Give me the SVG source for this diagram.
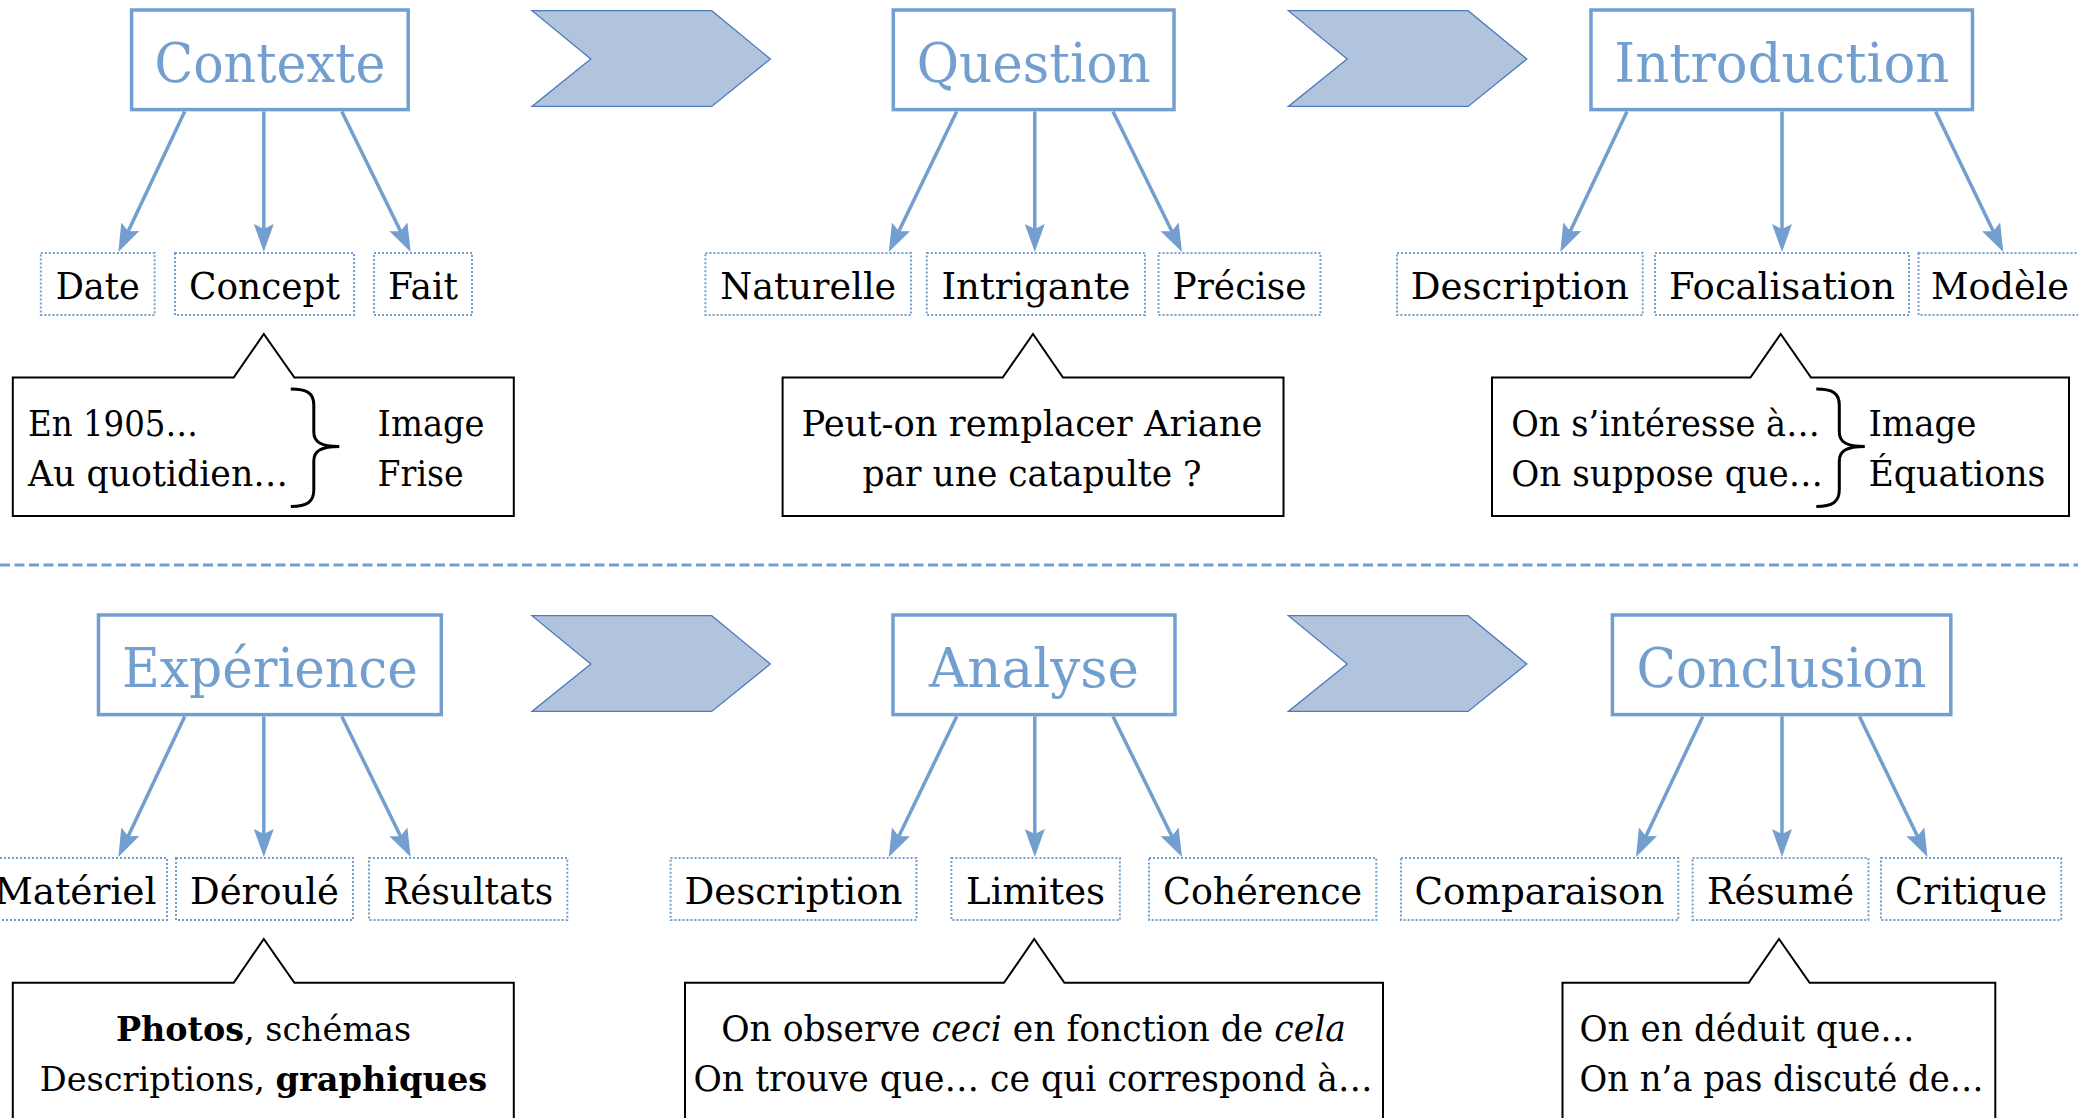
<svg xmlns="http://www.w3.org/2000/svg" width="2078" height="1118" viewBox="0 0 2078 1118">
  <defs>
    <style>
      text { font-family: "DejaVu Serif", "Liberation Serif", serif; }
      .head rect { fill: #ffffff; stroke: #729fcf; stroke-width: 3.5; }
      .head text { fill: #729fcf; font-size: 54px; text-anchor: middle; }
      .item rect { fill: #ffffff; stroke: #729fcf; stroke-width: 2; stroke-dasharray: 2 2; }
      .item text { fill: #000000; font-size: 37.5px; text-anchor: middle; }
      .note path.box { fill: #ffffff; stroke: #000000; stroke-width: 2; }
      .note path.brace { fill: none; stroke: #000000; stroke-width: 3; }
      .note text { fill: #000000; font-size: 35.5px; }
      .note text.c { text-anchor: middle; }
      .step { fill: #b0c4de; stroke: #4f79bd; stroke-width: 1.3; }
      .link { fill: none; stroke: #729fcf; stroke-width: 3.5; marker-end: url(#ah); }
      .sep { stroke: #729fcf; stroke-width: 3; stroke-dasharray: 10 4.5; }
    </style>
    <marker id="ah" markerUnits="userSpaceOnUse" markerWidth="30" markerHeight="22" viewBox="0 -11 30 22" refX="8" refY="0" orient="auto">
      <path d="M28,0 L0,-10 L5,0 L0,10 Z" fill="#729fcf"/>
    </marker>
  </defs>

  <rect width="2078" height="1118" fill="#ffffff"/>

  <!-- separator between the two rows -->
  <line class="sep" x1="0" y1="565" x2="2078" y2="565"/>

  <!-- chevrons between stages -->
  <g id="chevrons">
    <polygon class="step" points="532,10.7 711.7,10.7 770.4,59 711.7,106.4 532,106.4 590.8,59"/>
    <polygon class="step" points="1288.4,10.7 1468.1,10.7 1526.8,59 1468.1,106.4 1288.4,106.4 1347.2,59"/>
    <polygon class="step" points="532,615.7 711.7,615.7 770.4,664 711.7,711.4 532,711.4 590.8,664"/>
    <polygon class="step" points="1288.4,615.7 1468.1,615.7 1526.8,664 1468.1,711.4 1288.4,711.4 1347.2,664"/>
  </g>

  <!-- connectors -->
  <g id="connectors">
    <line class="link" x1="184.7" y1="111.4" x2="126.9" y2="233.9"/>
    <line class="link" x1="263.8" y1="111.4" x2="263.8" y2="232"/>
    <line class="link" x1="341.8" y1="111.4" x2="401.9" y2="234"/>

    <line class="link" x1="956.7" y1="111.4" x2="897.5" y2="234"/>
    <line class="link" x1="1034.8" y1="111.4" x2="1034.8" y2="232"/>
    <line class="link" x1="1113" y1="111.4" x2="1173.2" y2="234"/>

    <line class="link" x1="1627" y1="111.4" x2="1568.9" y2="233.9"/>
    <line class="link" x1="1782" y1="111.4" x2="1782" y2="232"/>
    <line class="link" x1="1935.6" y1="111.4" x2="1994.6" y2="234"/>

    <line class="link" x1="184.7" y1="716.4" x2="126.9" y2="838.9"/>
    <line class="link" x1="263.8" y1="716.4" x2="263.8" y2="837"/>
    <line class="link" x1="341.8" y1="716.4" x2="401.9" y2="839"/>

    <line class="link" x1="956.7" y1="716.4" x2="897.5" y2="839"/>
    <line class="link" x1="1034.8" y1="716.4" x2="1034.8" y2="837"/>
    <line class="link" x1="1113" y1="716.4" x2="1173.2" y2="839"/>

    <line class="link" x1="1702.8" y1="716.4" x2="1644.6" y2="838.9"/>
    <line class="link" x1="1782" y1="716.4" x2="1782" y2="837"/>
    <line class="link" x1="1859.5" y1="716.4" x2="1918.8" y2="839"/>
  </g>

  <!-- stage headers -->
  <g id="contexte" class="head">
    <rect x="131.6" y="10" width="276.6" height="99.6"/>
    <text x="269.9" y="82" textLength="231" lengthAdjust="spacingAndGlyphs">Contexte</text>
  </g>
  <g id="question" class="head">
    <rect x="893.3" y="10" width="280.7" height="99.6"/>
    <text x="1033.7" y="82" textLength="234" lengthAdjust="spacingAndGlyphs">Question</text>
  </g>
  <g id="introduction" class="head">
    <rect x="1591" y="10" width="381.5" height="99.6"/>
    <text x="1781.8" y="82" textLength="335" lengthAdjust="spacingAndGlyphs">Introduction</text>
  </g>
  <g id="experience" class="head">
    <rect x="98.5" y="615" width="342.8" height="99.6"/>
    <text x="269.9" y="687" textLength="296" lengthAdjust="spacingAndGlyphs">Expérience</text>
  </g>
  <g id="analyse" class="head">
    <rect x="893" y="615" width="282" height="99.6"/>
    <text x="1034" y="687" textLength="210" lengthAdjust="spacingAndGlyphs">Analyse</text>
  </g>
  <g id="conclusion" class="head">
    <rect x="1612.4" y="615" width="338.4" height="99.6"/>
    <text x="1781.6" y="687" textLength="290" lengthAdjust="spacingAndGlyphs">Conclusion</text>
  </g>

  <!-- sub-items, top row -->
  <g id="date" class="item"><rect x="40.8" y="253" width="113.8" height="62"/><text x="97.7" y="299" textLength="84" lengthAdjust="spacingAndGlyphs">Date</text></g>
  <g id="concept" class="item"><rect x="175" y="253" width="179" height="62"/><text x="264.5" y="299" textLength="151" lengthAdjust="spacingAndGlyphs">Concept</text></g>
  <g id="fait" class="item"><rect x="374" y="253" width="98" height="62"/><text x="423" y="299" textLength="70" lengthAdjust="spacingAndGlyphs">Fait</text></g>

  <g id="naturelle" class="item"><rect x="705.4" y="253" width="205.6" height="62"/><text x="808.2" y="299" textLength="176" lengthAdjust="spacingAndGlyphs">Naturelle</text></g>
  <g id="intrigante" class="item"><rect x="926.8" y="253" width="218.2" height="62"/><text x="1035.9" y="299" textLength="189" lengthAdjust="spacingAndGlyphs">Intrigante</text></g>
  <g id="precise" class="item"><rect x="1158.5" y="253" width="162" height="62"/><text x="1239.5" y="299" textLength="134" lengthAdjust="spacingAndGlyphs">Précise</text></g>

  <g id="description-intro" class="item"><rect x="1397" y="253" width="245.7" height="62"/><text x="1519.8" y="299" textLength="218" lengthAdjust="spacingAndGlyphs">Description</text></g>
  <g id="focalisation" class="item"><rect x="1655" y="253" width="254" height="62"/><text x="1782" y="299" textLength="226" lengthAdjust="spacingAndGlyphs">Focalisation</text></g>
  <g id="modele" class="item"><rect x="1918.5" y="253" width="163" height="62"/><text x="2000" y="299" textLength="138" lengthAdjust="spacingAndGlyphs">Modèle</text></g>

  <!-- sub-items, bottom row -->
  <g id="materiel" class="item"><rect x="-20" y="858" width="187" height="62"/><text x="75.5" y="904">Matériel</text></g>
  <g id="deroule" class="item"><rect x="176" y="858" width="177" height="62"/><text x="264.5" y="904" textLength="149" lengthAdjust="spacingAndGlyphs">Déroulé</text></g>
  <g id="resultats" class="item"><rect x="369" y="858" width="198.3" height="62"/><text x="468.2" y="904" textLength="170" lengthAdjust="spacingAndGlyphs">Résultats</text></g>

  <g id="description-analyse" class="item"><rect x="670.6" y="858" width="245.9" height="62"/><text x="793.5" y="904" textLength="218" lengthAdjust="spacingAndGlyphs">Description</text></g>
  <g id="limites" class="item"><rect x="951.4" y="858" width="168.5" height="62"/><text x="1035.6" y="904" textLength="139" lengthAdjust="spacingAndGlyphs">Limites</text></g>
  <g id="coherence" class="item"><rect x="1149" y="858" width="227.3" height="62"/><text x="1262.6" y="904" textLength="199" lengthAdjust="spacingAndGlyphs">Cohérence</text></g>

  <g id="comparaison" class="item"><rect x="1401" y="858" width="277.3" height="62"/><text x="1539.6" y="904" textLength="250" lengthAdjust="spacingAndGlyphs">Comparaison</text></g>
  <g id="resume" class="item"><rect x="1692.6" y="858" width="175.8" height="62"/><text x="1780.5" y="904" textLength="147" lengthAdjust="spacingAndGlyphs">Résumé</text></g>
  <g id="critique" class="item"><rect x="1881" y="858" width="180.2" height="62"/><text x="1971.1" y="904" textLength="152" lengthAdjust="spacingAndGlyphs">Critique</text></g>

  <!-- callout notes -->
  <g id="note-contexte" class="note">
    <path class="box" d="M12.8,377.5 L233.7,377.5 L263.8,334 L294.4,377.5 L513.8,377.5 L513.8,516 L12.8,516 Z"/>
    <text x="28" y="436" textLength="170" lengthAdjust="spacingAndGlyphs">En 1905…</text>
    <text x="28" y="486" textLength="260" lengthAdjust="spacingAndGlyphs">Au quotidien…</text>
    <path class="brace" d="M290.8,389 C306.8,389 313.8,393 313.8,405 L313.8,432 C313.8,442 320.8,446.4 339.3,446.4 C320.8,446.4 313.8,451 313.8,461 L313.8,490 C313.8,502 306.8,506.4 290.8,506.4"/>
    <text x="377.6" y="436" textLength="107" lengthAdjust="spacingAndGlyphs">Image</text>
    <text x="377.6" y="486" textLength="86" lengthAdjust="spacingAndGlyphs">Frise</text>
  </g>

  <g id="note-question" class="note">
    <path class="box" d="M782.6,377.5 L1002.7,377.5 L1033,334 L1063,377.5 L1283.5,377.5 L1283.5,516 L782.6,516 Z"/>
    <text class="c" x="1032" y="436" textLength="461" lengthAdjust="spacingAndGlyphs">Peut-on remplacer Ariane</text>
    <text class="c" x="1032" y="486" textLength="339" lengthAdjust="spacingAndGlyphs">par une catapulte ?</text>
  </g>

  <g id="note-introduction" class="note">
    <path class="box" d="M1492,377.5 L1750.4,377.5 L1780.7,334 L1811,377.5 L2069,377.5 L2069,516 L1492,516 Z"/>
    <text x="1511.3" y="436" textLength="308.5" lengthAdjust="spacingAndGlyphs">On s’intéresse à…</text>
    <text x="1511.3" y="486" textLength="311.7" lengthAdjust="spacingAndGlyphs">On suppose que…</text>
    <path class="brace" d="M1816.3,389 C1832.3,389 1839.3,393 1839.3,405 L1839.3,432 C1839.3,442 1846.3,446.4 1864.8,446.4 C1846.3,446.4 1839.3,451 1839.3,461 L1839.3,490 C1839.3,502 1832.3,506.4 1816.3,506.4"/>
    <text x="1868.4" y="436" textLength="108" lengthAdjust="spacingAndGlyphs">Image</text>
    <text x="1868.4" y="486" textLength="177" lengthAdjust="spacingAndGlyphs">Équations</text>
  </g>

  <g id="note-experience" class="note">
    <path class="box" d="M12.8,982.8 L233.7,982.8 L263.8,939 L294.4,982.8 L513.8,982.8 L513.8,1130 L12.8,1130 Z"/>
    <text class="c" x="263.5" y="1041" style="font-size:33.4px"><tspan font-weight="bold">Photos</tspan>, schémas</text>
    <text class="c" x="263.5" y="1091" style="font-size:33.6px">Descriptions, <tspan font-weight="bold">graphiques</tspan></text>
  </g>

  <g id="note-analyse" class="note">
    <path class="box" d="M685,982.8 L1004,982.8 L1034.2,939 L1064.4,982.8 L1383,982.8 L1383,1130 L685,1130 Z"/>
    <text class="c" x="1033.5" y="1041" style="font-size:34.6px">On observe <tspan font-style="italic">ceci</tspan> en fonction de <tspan font-style="italic">cela</tspan></text>
    <text class="c" x="1033" y="1091" textLength="679" lengthAdjust="spacingAndGlyphs">On trouve que… ce qui correspond à…</text>
  </g>

  <g id="note-conclusion" class="note">
    <path class="box" d="M1562.5,982.8 L1748.7,982.8 L1779,939 L1809.6,982.8 L1995.3,982.8 L1995.3,1130 L1562.5,1130 Z"/>
    <text x="1579.5" y="1041" textLength="335" lengthAdjust="spacingAndGlyphs">On en déduit que…</text>
    <text x="1579.5" y="1091" textLength="404" lengthAdjust="spacingAndGlyphs">On n’a pas discuté de…</text>
  </g>
</svg>
